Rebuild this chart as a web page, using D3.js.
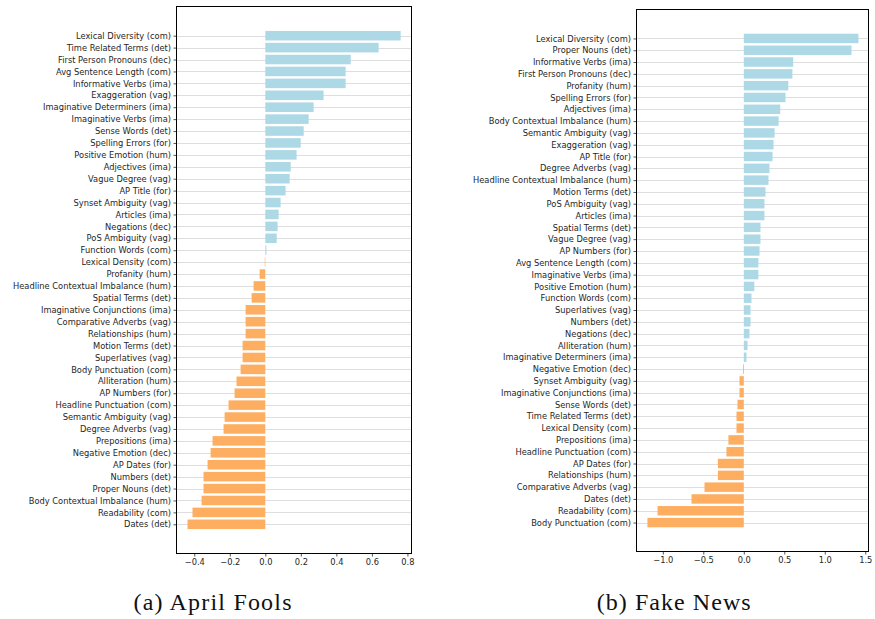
<!DOCTYPE html>
<html>
<head>
<meta charset="utf-8">
<script src="https://cdn.jsdelivr.net/npm/d3@7/dist/d3.min.js"></script>
<style>
  html, body { margin: 0; padding: 0; background: #fff; }
  svg { display: block; }
</style>
</head>
<body>
<svg id="chart" width="875" height="619"></svg>
<script>
// Feature weights, panel (a): April Fools
const aprilLabels = [
  "Lexical Diversity (com)", "Time Related Terms (det)", "First Person Pronouns (dec)",
  "Avg Sentence Length (com)", "Informative Verbs (ima)", "Exaggeration (vag)",
  "Imaginative Determiners (ima)", "Imaginative Verbs (ima)", "Sense Words (det)",
  "Spelling Errors (for)", "Positive Emotion (hum)", "Adjectives (ima)",
  "Vague Degree (vag)", "AP Title (for)", "Synset Ambiguity (vag)", "Articles (ima)",
  "Negations (dec)", "PoS Ambiguity (vag)", "Function Words (com)", "Lexical Density (com)",
  "Profanity (hum)", "Headline Contextual Imbalance (hum)", "Spatial Terms (det)",
  "Imaginative Conjunctions (ima)", "Comparative Adverbs (vag)", "Relationships (hum)",
  "Motion Terms (det)", "Superlatives (vag)", "Body Punctuation (com)", "Alliteration (hum)",
  "AP Numbers (for)", "Headline Punctuation (com)", "Semantic Ambiguity (vag)",
  "Degree Adverbs (vag)", "Prepositions (ima)", "Negative Emotion (dec)", "AP Dates (for)",
  "Numbers (det)", "Proper Nouns (det)", "Body Contextual Imbalance (hum)",
  "Readability (com)", "Dates (det)"
];
const aprilValues = [
  0.762, 0.638, 0.481, 0.452, 0.452, 0.328, 0.272, 0.244, 0.216, 0.199, 0.176, 0.143,
  0.137, 0.114, 0.086, 0.075, 0.069, 0.064, 0.006, -0.003, -0.032, -0.066, -0.077,
  -0.111, -0.111, -0.111, -0.128, -0.128, -0.139, -0.162, -0.173, -0.207, -0.229,
  -0.235, -0.297, -0.308, -0.325, -0.348, -0.348, -0.359, -0.410, -0.438
];
const aprilTicks = [-0.4, -0.2, 0.0, 0.2, 0.4, 0.6, 0.8];

// Feature weights, panel (b): Fake News
const fakeLabels = [
  "Lexical Diversity (com)", "Proper Nouns (det)", "Informative Verbs (ima)",
  "First Person Pronouns (dec)", "Profanity (hum)", "Spelling Errors (for)",
  "Adjectives (ima)", "Body Contextual Imbalance (hum)", "Semantic Ambiguity (vag)",
  "Exaggeration (vag)", "AP Title (for)", "Degree Adverbs (vag)",
  "Headline Contextual Imbalance (hum)", "Motion Terms (det)", "PoS Ambiguity (vag)",
  "Articles (ima)", "Spatial Terms (det)", "Vague Degree (vag)", "AP Numbers (for)",
  "Avg Sentence Length (com)", "Imaginative Verbs (ima)", "Positive Emotion (hum)",
  "Function Words (com)", "Superlatives (vag)", "Numbers (det)", "Negations (dec)",
  "Alliteration (hum)", "Imaginative Determiners (ima)", "Negative Emotion (dec)",
  "Synset Ambiguity (vag)", "Imaginative Conjunctions (ima)", "Sense Words (det)",
  "Time Related Terms (det)", "Lexical Density (com)", "Prepositions (ima)",
  "Headline Punctuation (com)", "AP Dates (for)", "Relationships (hum)",
  "Comparative Adverbs (vag)", "Dates (det)", "Readability (com)", "Body Punctuation (com)"
];
const fakeValues = [
  1.416, 1.330, 0.610, 0.600, 0.550, 0.515, 0.450, 0.430, 0.380, 0.367, 0.355, 0.317,
  0.305, 0.268, 0.255, 0.255, 0.206, 0.206, 0.194, 0.180, 0.180, 0.130, 0.095, 0.083,
  0.083, 0.070, 0.046, 0.033, -0.010, -0.053, -0.053, -0.078, -0.090, -0.090, -0.190,
  -0.214, -0.320, -0.320, -0.485, -0.646, -1.065, -1.190
];
const fakeTicks = [-1.0, -0.5, 0.0, 0.5, 1.0, 1.5];

const captions = ["(a) April Fools", "(b) Fake News"];

const POS_COLOR = "#add8e6";
const NEG_COLOR = "#fdae61";
const TEXT_COLOR = "#262626";

const svg = d3.select("#chart");
svg.append("rect").attr("width", 875).attr("height", 619).attr("fill", "#fff");

function drawPanel(cfg) {
  const { labels, values, ticks, caption, box, xDomain, captionX } = cfg;
  const g = svg.append("g");

  const x = d3.scaleLinear().domain(xDomain).range([box.left, box.right]);
  const pad = 2.45;
  const y = d3.scaleLinear()
    .domain([-pad, labels.length - 1 + pad])
    .range([box.top, box.bottom]);
  const step = Math.abs(y(1) - y(0));
  const barH = step * 0.8;

  // horizontal grid lines at each category
  g.append("g").selectAll("line")
    .data(labels)
    .join("line")
    .attr("x1", box.left).attr("x2", box.right)
    .attr("y1", (d, i) => Math.round(y(i)) + 0.5)
    .attr("y2", (d, i) => Math.round(y(i)) + 0.5)
    .attr("stroke", "#dedede")
    .attr("stroke-width", 1);

  // bars
  g.append("g").selectAll("rect")
    .data(values)
    .join("rect")
    .attr("x", d => x(Math.min(0, d)))
    .attr("width", d => Math.abs(x(d) - x(0)))
    .attr("y", (d, i) => y(i) - barH / 2)
    .attr("height", barH)
    .attr("fill", d => d >= 0 ? POS_COLOR : NEG_COLOR);

  // y axis: category labels
  const yAxis = d3.axisLeft(y)
    .tickValues(d3.range(labels.length))
    .tickFormat(i => labels[i])
    .tickSize(3)
    .tickPadding(2.5);
  const ya = g.append("g")
    .attr("transform", `translate(${box.left},0)`)
    .call(yAxis);
  ya.select(".domain").remove();

  // x axis
  const xAxis = d3.axisBottom(x)
    .tickValues(ticks)
    .tickFormat(v => d3.format(".1f")(v).replace("-", "\u2212"))
    .tickSize(3)
    .tickPadding(2.5);
  const xa = g.append("g")
    .attr("transform", `translate(0,${box.bottom})`)
    .call(xAxis);
  xa.select(".domain").remove();

  [ya, xa].forEach(a => {
    a.selectAll("text")
      .attr("fill", TEXT_COLOR)
      .style("font-family", "'DejaVu Sans', sans-serif")
      .style("font-size", "8.3px");
    a.selectAll(".tick line").attr("stroke", TEXT_COLOR).attr("stroke-width", 0.8);
  });

  // frame
  g.append("rect")
    .attr("x", box.left).attr("y", box.top)
    .attr("width", box.right - box.left)
    .attr("height", box.bottom - box.top)
    .attr("fill", "none")
    .attr("stroke", "#000")
    .attr("stroke-width", 1);

  // caption
  svg.append("text")
    .attr("x", captionX).attr("y", 609.5)
    .attr("text-anchor", "middle")
    .attr("fill", "#111")
    .style("font-family", "'Liberation Serif', serif")
    .style("font-size", "24px")
    .attr("textLength", cfg.captionWidth)
    .attr("lengthAdjust", "spacing")
    .text(caption);
}

drawPanel({
  labels: aprilLabels, values: aprilValues, ticks: aprilTicks, caption: captions[0],
  box: { left: 176.5, right: 411.5, top: 6.5, bottom: 553.5 },
  xDomain: [-0.5, 0.823],
  captionX: 212.5, captionWidth: 158
});

drawPanel({
  labels: fakeLabels, values: fakeValues, ticks: fakeTicks, caption: captions[1],
  box: { left: 636.5, right: 868.5, top: 9.5, bottom: 551.5 },
  xDomain: [-1.325, 1.54],
  captionX: 673.7, captionWidth: 154
});
</script>
</body>
</html>
